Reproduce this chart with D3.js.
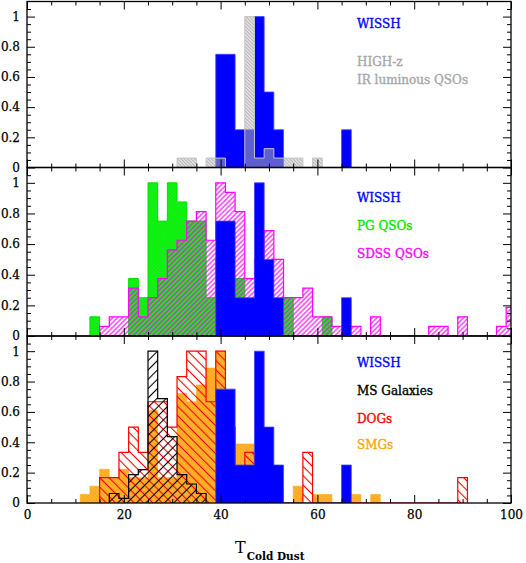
<!DOCTYPE html>
<html>
<head>
<meta charset="utf-8">
<script src="https://cdn.jsdelivr.net/npm/d3@7"></script>
<style>
body { margin: 0; background: #fff; }
svg { display: block; }
text { font-family: "DejaVu Serif", serif; }
</style>
</head>
<body>
<div id="chart"></div>
<script>
// histogram bins are 2 K wide, given by their left edge
const wisshBins = [39, 41, 43, 45, 47, 49, 51, 65];
const wisshVals = [0.75, 0.75, 0.25, 0.25, 1, 0.5, 0.25, 0.25];

const highzBins = [31, 33, 37, 39, 45, 47, 49, 51, 53, 55, 59];
const highzVals = [0.0625, 0.0625, 0.0625, 0.0625, 1, 0.0625, 0.125, 0.0625, 0.0625, 0.0625, 0.0625];

const pgBins = [13, 21, 23, 25, 27, 29, 31, 33, 35, 37, 39, 41, 43, 45, 47, 49, 51, 53, 61];
const pgVals = [0.125, 0.375, 0.25, 1, 0.75, 1, 0.875, 0.75, 0.75, 0.25, 0.5, 0.25, 0.375, 0.125, 0.25, 0.125, 0.125, 0.25, 0.125];

const sdssBins = [15, 17, 19, 21, 23, 25, 27, 29, 31, 33, 35, 37, 39, 41, 43, 45, 47, 49, 51, 53, 55, 57, 59, 61, 63, 65, 67, 71, 83, 85, 89, 97, 99];
const sdssVals = [0.0625, 0.125, 0.125, 0.3125, 0.125, 0.25, 0.375, 0.5625, 0.625, 0.75, 0.8125, 0.625, 1, 0.9375, 0.8125, 0.375, 0.5, 0.6875, 0.5, 0.25, 0.25, 0.3125, 0.125, 0.125, 0.0625, 0.0625, 0.0625, 0.125, 0.0625, 0.0625, 0.125, 0.0625, 0.1875];

const msBins = [17, 19, 21, 23, 25, 27, 29, 31, 33, 35];
const msVals = [0.0625, 0.03, 0.1875, 0.22, 1, 0.6875, 0.4375, 0.1875, 0.125, 0.0625];

const dogBins = [15, 17, 19, 21, 23, 25, 27, 29, 31, 33, 35, 37, 39, 41, 43, 45, 57, 89];
const dogVals = [0.167, 0.167, 0.333, 0.5, 0.333, 0.667, 0.667, 0.5, 0.833, 1, 1, 0.667, 1, 0.5, 0.167, 0.333, 0.333, 0.167];

const smgBins = [11, 13, 15, 17, 19, 21, 23, 25, 27, 29, 31, 33, 35, 37, 39, 41, 43, 45, 47, 49, 51, 55, 59, 61, 67, 71];
const smgVals = [0.056, 0.111, 0.222, 0.167, 0.222, 0.167, 0.167, 0.611, 0.167, 0.167, 0.722, 0.667, 0.778, 0.889, 1, 0.5, 0.389, 0.389, 0.3, 0.2, 0.1, 0.111, 0.056, 0.056, 0.056, 0.056];

const xTicks = [0, 20, 40, 60, 80, 100];
const yTicks = [0, 0.2, 0.4, 0.6, 0.8, 1];

const binWidth = 2;
const width = 526, height = 563;
const left = 27, right = 511;
const edges = [1.5, 167.5, 336, 503];

const svg = d3.select("#chart").append("svg")
    .attr("width", width)
    .attr("height", height);
const defs = svg.append("defs");

function hatch(id, size, angle, line, lw, bg) {
    let p = defs.append("pattern")
        .attr("id", id)
        .attr("patternUnits", "userSpaceOnUse")
        .attr("width", size)
        .attr("height", size)
        .attr("patternTransform", "rotate(" + angle + ")");
    if (bg) p.append("rect").attr("width", size).attr("height", size).attr("fill", bg);
    p.append("line")
        .attr("x1", size / 2).attr("x2", size / 2)
        .attr("y1", 0).attr("y2", size)
        .attr("stroke", line)
        .attr("stroke-width", lw);
}
hatch("h-grey", 2.4, -45, "rgba(125,125,125,0.5)", 0.9, "rgba(195,195,195,0.45)");
hatch("h-green", 2.6, -45, "#35c835", 0.7, "#00ff00");
hatch("h-sdss", 3.4, 45, "#ff00ff", 1.1, null);
hatch("h-red", 6.6, -45, "#ff0000", 1.1, null);
hatch("h-black", 6.6, 45, "#000000", 1.1, null);
hatch("h-orange", 2.6, -45, "#f6a212", 0.7, "#ffb32e");

const x = d3.scaleLinear().domain([0, 100]).range([left, right]);

const wissh = { bins: wisshBins, vals: wisshVals, fill: "#0000ff", stroke: "#4040ff", sw: 0.8 };

const panels = [
    {
        series: [
            wissh,
            { bins: highzBins, vals: highzVals, fill: "url(#h-grey)", stroke: "#c4c4c4", sw: 1 }
        ],
        labels: [["WISSH", "#0000ff", 28], ["HIGH-z", "#a6a6a6", 66], ["IR luminous QSOs", "#a6a6a6", 84]]
    },
    {
        series: [
            { bins: pgBins, vals: pgVals, fill: "url(#h-green)", stroke: "#00e000", sw: 1 },
            { bins: sdssBins, vals: sdssVals, fill: "url(#h-sdss)", stroke: "#ff00ff", sw: 1.2 },
            wissh
        ],
        labels: [["WISSH", "#0000ff", 202], ["PG QSOs", "#00e600", 230], ["SDSS QSOs", "#ff00ff", 258]]
    },
    {
        series: [
            { bins: smgBins, vals: smgVals, fill: "url(#h-orange)", stroke: "#ffab20", sw: 0.6 },
            { bins: dogBins, vals: dogVals, fill: "url(#h-red)", stroke: "#ff0000", sw: 1.2 },
            { bins: msBins, vals: msVals, fill: "url(#h-black)", stroke: "#000000", sw: 1.2 },
            wissh
        ],
        labels: [["WISSH", "#0000ff", 367], ["MS Galaxies", "#000000", 395], ["DOGs", "#ff0000", 423], ["SMGs", "#ffa500", 449]]
    }
];

// outline of a histogram: a step line that drops to zero between separate runs
function stepPoints(bins, vals) {
    let pts = [[bins[0], 0]];
    bins.forEach(function(b, i) {
        if (i > 0 && b !== bins[i - 1] + binWidth) {
            pts.push([bins[i - 1] + binWidth, 0]);
            pts.push([b, 0]);
        }
        pts.push([b, vals[i]]);
        pts.push([b + binWidth, vals[i]]);
    });
    pts.push([bins[bins.length - 1] + binWidth, 0]);
    return pts;
}

const minorY = d3.range(0.05, 1.1, 0.05).filter(function(v) {
    return Math.abs(v / 0.2 - Math.round(v / 0.2)) > 0.01;
});
const minorX = d3.range(5, 100, 5).filter(function(v) { return v % 20 !== 0; });

function noDomain(g) { g.select(".domain").remove(); }

panels.forEach(function(p, i) {
    let top = edges[i], bottom = edges[i + 1];
    let y = d3.scaleLinear().domain([0, 1.1]).range([bottom, top]);

    defs.append("clipPath").attr("id", "clip" + i)
        .append("rect")
        .attr("x", left).attr("y", top)
        .attr("width", right - left).attr("height", bottom - top);

    let g = svg.append("g").attr("clip-path", "url(#clip" + i + ")");

    let line = d3.line()
        .x(function(d) { return x(d[0]); })
        .y(function(d) { return y(d[1]); });

    p.series.forEach(function(s) {
        let pts = stepPoints(s.bins, s.vals);
        g.append("path")
            .attr("d", line(pts) + "Z")
            .attr("fill", s.fill)
            .attr("stroke", "none");
        g.append("path")
            .attr("d", line(pts))
            .attr("fill", "none")
            .attr("stroke", s.stroke)
            .attr("stroke-width", s.sw);
    });

    // ticks on all four sides, pointing inward
    let axes = svg.append("g").attr("class", "axes");
    axes.append("g").attr("transform", "translate(" + left + ",0)")
        .call(d3.axisLeft(y).tickValues(yTicks).tickSize(-8).tickPadding(7).tickFormat(d3.format("~g")))
        .call(noDomain);
    axes.append("g").attr("transform", "translate(" + left + ",0)")
        .call(d3.axisLeft(y).tickValues(minorY).tickSize(-4).tickFormat(""))
        .call(noDomain);
    axes.append("g").attr("transform", "translate(" + right + ",0)")
        .call(d3.axisRight(y).tickValues(yTicks).tickSize(-8).tickFormat(""))
        .call(noDomain);
    axes.append("g").attr("transform", "translate(" + right + ",0)")
        .call(d3.axisRight(y).tickValues(minorY).tickSize(-4).tickFormat(""))
        .call(noDomain);
    axes.append("g").attr("transform", "translate(0," + top + ")")
        .call(d3.axisTop(x).tickValues(xTicks).tickSize(-8).tickFormat(""))
        .call(noDomain);
    axes.append("g").attr("transform", "translate(0," + top + ")")
        .call(d3.axisTop(x).tickValues(minorX).tickSize(-4).tickFormat(""))
        .call(noDomain);
    axes.append("g").attr("transform", "translate(0," + bottom + ")")
        .call(d3.axisBottom(x).tickValues(xTicks).tickSize(-8).tickPadding(7)
            .tickFormat(i === 2 ? d3.format("d") : ""))
        .call(noDomain);
    axes.append("g").attr("transform", "translate(0," + bottom + ")")
        .call(d3.axisBottom(x).tickValues(minorX).tickSize(-4).tickFormat(""))
        .call(noDomain);

    axes.selectAll("line").attr("stroke", "#000").attr("stroke-width", 1);
    axes.selectAll("text")
        .attr("font-family", "DejaVu Serif")
        .attr("font-size", 12)
        .attr("fill", "#000")
        .attr("stroke", "#000")
        .attr("stroke-width", 0.25);

    svg.append("rect")
        .attr("x", left).attr("y", top)
        .attr("width", right - left).attr("height", bottom - top)
        .attr("fill", "none")
        .attr("stroke", "#000")
        .attr("stroke-width", 1.3);

    svg.append("g").selectAll("text")
        .data(p.labels)
        .enter()
        .append("text")
        .attr("x", 357)
        .attr("y", function(d) { return d[2]; })
        .attr("font-size", 12)
        .attr("fill", function(d) { return d[1]; })
        .attr("stroke", function(d) { return d[1]; })
        .attr("stroke-width", 0.35)
        .text(function(d) { return d[0]; });
});

let title = svg.append("text")
    .attr("x", 235)
    .attr("y", 553)
    .attr("font-size", 16)
    .attr("fill", "#000");
title.append("tspan").text("T");
title.append("tspan")
    .attr("dy", 7)
    .attr("dx", 1)
    .attr("font-size", 10.5)
    .attr("font-weight", "bold")
    .text("Cold Dust");
</script>
</body>
</html>
